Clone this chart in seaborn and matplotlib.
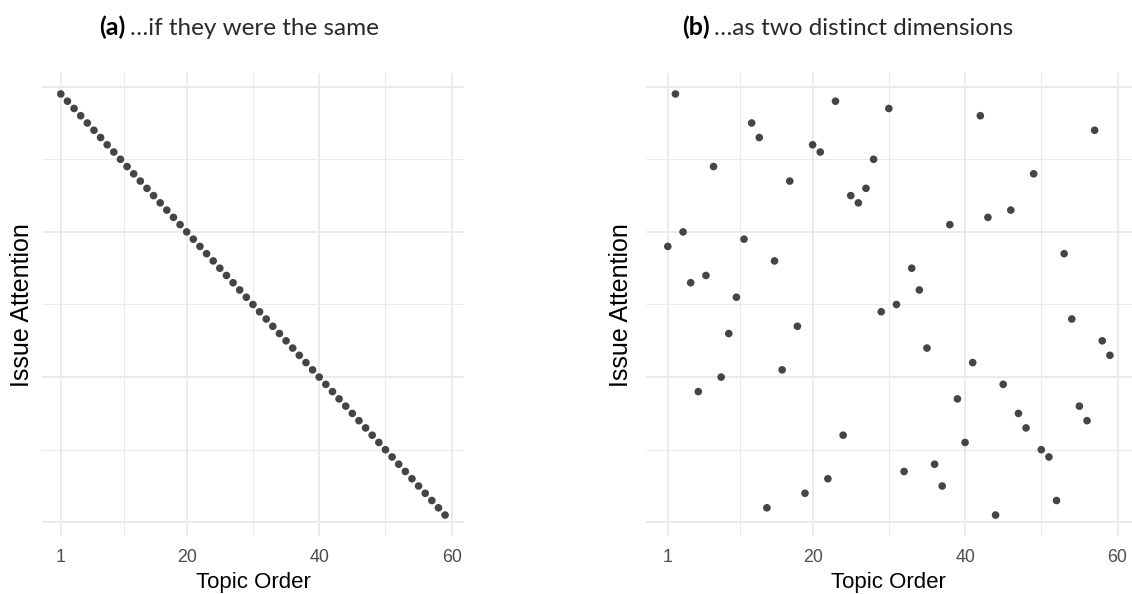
import matplotlib
matplotlib.use("Agg")
import matplotlib.pyplot as plt
import seaborn as sns
import pandas as pd
from matplotlib.ticker import FixedLocator, NullFormatter

# Topic positions and the two attention scenarios
topic_order = list(range(1, 60))
attention_same = list(range(59, 0, -1))
attention_distinct = [38, 59, 40, 33, 18, 34, 49, 20, 26, 31,
                      39, 55, 53, 2, 36, 21, 47, 27, 4, 52,
                      51, 6, 58, 12, 45, 44, 46, 50, 29, 57,
                      30, 7, 35, 32, 24, 8, 5, 41, 17, 11,
                      22, 56, 42, 1, 19, 43, 15, 13, 48, 10,
                      9, 3, 37, 28, 16, 14, 54, 25, 23]

x_breaks = [1, 20, 40, 60]
x_minor_breaks = [10.5, 30, 50]
y_breaks = [0, 20, 40, 60]
y_minor_breaks = [10, 30, 50]

panel_tags = ["(a)", "(b)"]
panel_titles = ["\u2026if they were the same", "\u2026as two distinct dimensions"]
x_title = "Topic Order"
y_title = "Issue Attention"

sns.set_theme(style="white")
plt.rcParams["font.family"] = ["Liberation Sans", "DejaVu Sans"]

W, H = 1132, 594
fig = plt.figure(figsize=(W / 100, H / 100), dpi=100)
fig.patch.set_facecolor("white")


def box(l, t, r, b):
    return [l / W, 1 - b / H, (r - l) / W, (b - t) / H]


ax_a = fig.add_axes(box(41.6, 72.9, 464.3, 536.1))
ax_b = fig.add_axes(box(645.7, 72.9, 1132, 536.1))

frames = [
    pd.DataFrame({"topic": topic_order, "attention": attention_same}),
    pd.DataFrame({"topic": topic_order, "attention": attention_distinct}),
]

point_color = "#454545"
grid_color = "#EBEBEB"

for ax, df in zip([ax_a, ax_b], frames):
    sns.scatterplot(data=df, x="topic", y="attention", ax=ax,
                    color=point_color, s=30, edgecolor="none", linewidth=0, zorder=3)
    ax.set_xlim(-1.9, 61.9)
    ax.set_ylim(-1.9, 61.9)
    ax.xaxis.set_major_locator(FixedLocator(x_breaks))
    ax.xaxis.set_minor_locator(FixedLocator(x_minor_breaks))
    ax.yaxis.set_major_locator(FixedLocator(y_breaks))
    ax.yaxis.set_minor_locator(FixedLocator(y_minor_breaks))
    ax.yaxis.set_major_formatter(NullFormatter())
    ax.grid(which="major", color=grid_color, linewidth=1.4, zorder=0)
    ax.grid(which="minor", color=grid_color, linewidth=0.75, zorder=0)
    ax.set_axisbelow(True)
    for s in ax.spines.values():
        s.set_visible(False)
    ax.tick_params(which="both", length=0)
    ax.tick_params(axis="x", labelsize=12.8, labelcolor="#4D4D4D", pad=9)
    ax.set_xlabel("")
    ax.set_ylabel("")
    ax.set_facecolor("white")

# axis titles
for ax, ylab_x in zip([ax_a, ax_b], [22, 621]):
    pos = ax.get_position()
    cx = (pos.x0 + pos.x1) / 2
    fig.text(cx, 1 - 588 / H, x_title, ha="center", va="baseline",
             fontsize=16, color="black")
    fig.text(ylab_x / W, 1 - 305 / H, y_title, ha="center", va="center",
             rotation=90, fontsize=18, color="black")

# panel titles: bold tag followed by a lighter caption
renderer = fig.canvas.get_renderer()
for tag, caption, left_px in zip(panel_tags, panel_titles, [98.7, 681.7]):
    t = fig.text(left_px / W, 1 - 35 / H, tag, ha="left", va="baseline",
                 fontsize=18, fontweight="bold", family=["Lato", "DejaVu Sans"],
                 color="black")
    bb = t.get_window_extent(renderer)
    fig.text((bb.x1 + 5) / W, 1 - 35 / H, caption, ha="left", va="baseline",
             fontsize=17.5, fontweight="normal", family=["Lato", "DejaVu Sans"],
             color="#2a2a2a")

fig.savefig("out.png", dpi=100, facecolor="white")
